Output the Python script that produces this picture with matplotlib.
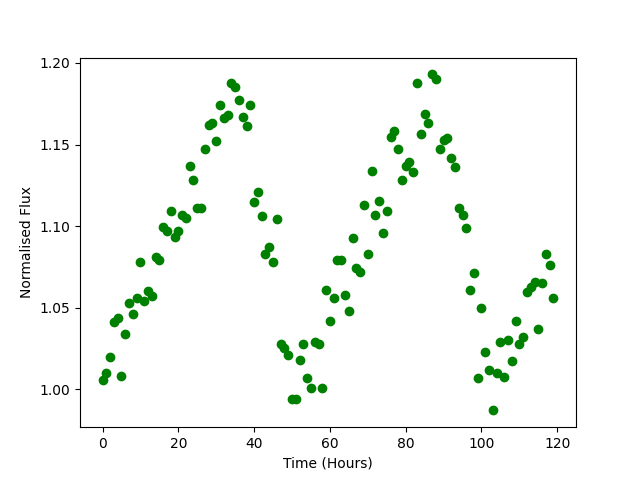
import numpy as np
import matplotlib
matplotlib.use("Agg")
import matplotlib.pyplot as plt

# time in hours, one reading per hour
time_hours = list(range(120))

flux = [
    1.0055, 1.0098, 1.0196, 1.041, 1.0434, 1.008, 1.034, 1.053, 1.046, 1.0557,
    1.078, 1.054, 1.060, 1.057, 1.081, 1.079, 1.0997, 1.097, 1.1095, 1.0936,
    1.097, 1.107, 1.105, 1.137, 1.128, 1.111, 1.111, 1.147, 1.162, 1.163,
    1.152, 1.174, 1.166, 1.168, 1.188, 1.185, 1.177, 1.167, 1.1615, 1.174,
    1.115, 1.121, 1.106, 1.0826, 1.087, 1.0777, 1.1046, 1.0275, 1.025, 1.021,
    0.994, 0.994, 1.018, 1.028, 1.007, 1.001, 1.029, 1.028, 1.001, 1.061,
    1.042, 1.056, 1.079, 1.0795, 1.0575, 1.0477, 1.093, 1.0746, 1.0716, 1.113,
    1.0826, 1.134, 1.107, 1.1156, 1.096, 1.1095, 1.1547, 1.158, 1.147, 1.128,
    1.137, 1.139, 1.133, 1.188, 1.1566, 1.169, 1.163, 1.193, 1.190, 1.147,
    1.153, 1.154, 1.142, 1.136, 1.111, 1.107, 1.099, 1.061, 1.071, 1.007,
    1.0495, 1.023, 1.012, 0.987, 1.0098, 1.029, 1.0073, 1.030, 1.017, 1.0416,
    1.028, 1.032, 1.0593, 1.0624, 1.066, 1.0367, 1.065, 1.0826, 1.076, 1.0557,
]

plt.figure(figsize=(6.4, 4.8), dpi=100)
plt.plot(time_hours, flux, 'o', color='green')
plt.xlabel("Time (Hours)")
plt.ylabel("Normalised Flux")
plt.savefig("out.png")
